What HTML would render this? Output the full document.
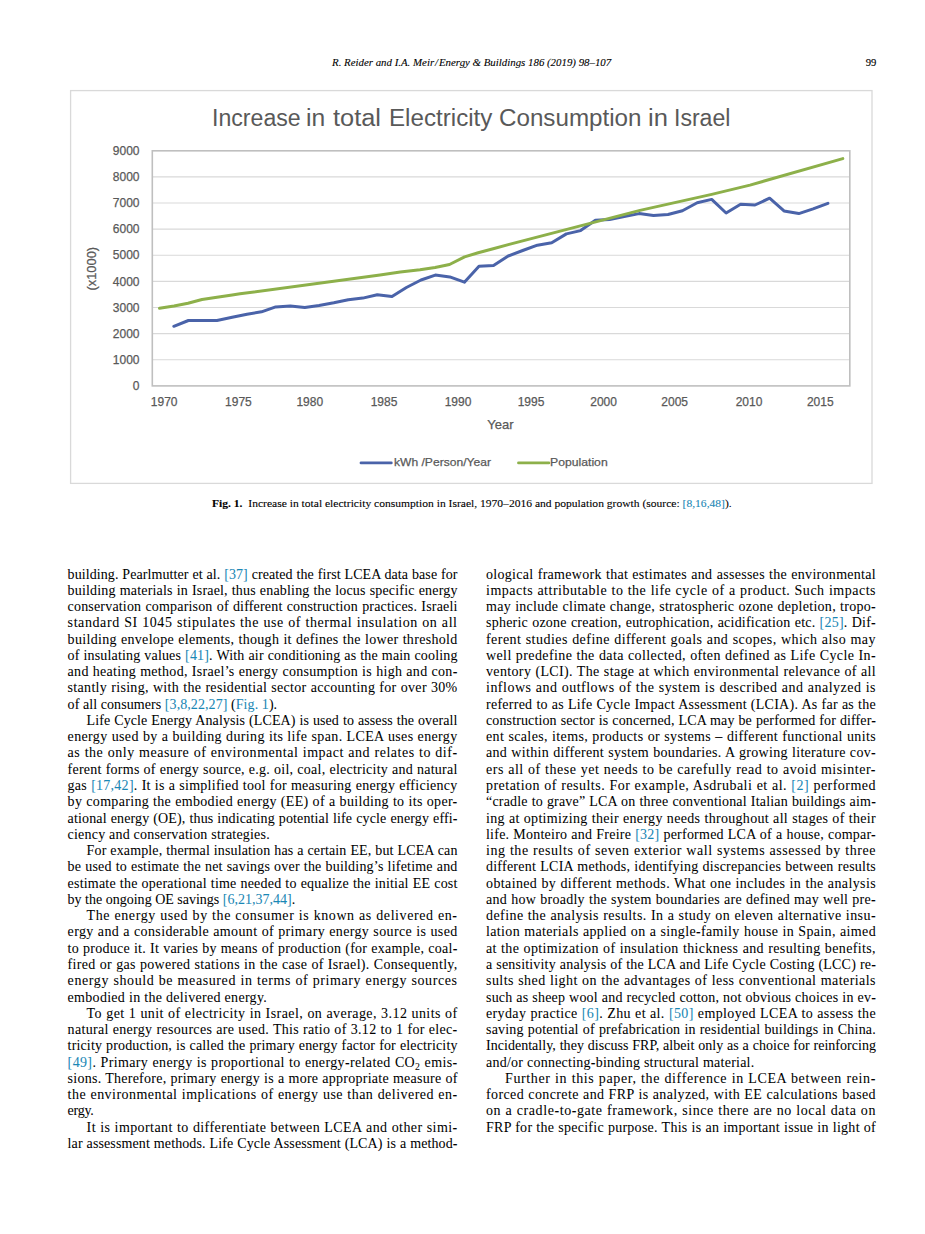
<!DOCTYPE html><html><head><meta charset="utf-8"><style>
html,body{margin:0;padding:0;background:#fff;}
body{width:925px;height:1234px;position:relative;overflow:hidden;}
.l{position:absolute;white-space:nowrap;font-family:'Liberation Serif', serif;font-size:14.0px;letter-spacing:0.45px;line-height:20px;height:20px;color:#000;-webkit-text-stroke:0.04px currentColor;text-align:justify;text-align-last:justify;width:390.0px}
.l.e{text-align-last:left}
.t{position:absolute;white-space:nowrap;line-height:20px;height:20px;transform-origin:0 0}
sub{font-size:70%;vertical-align:-3px;line-height:0}
</style></head><body>
<svg width="925" height="500" viewBox="0 0 925 500" style="position:absolute;left:0;top:0"><rect x="70.6" y="90.6" width="801.4" height="392.8" fill="#fff" stroke="#d9d9d9" stroke-width="1.3"/><line x1="152.4" y1="359.78" x2="849.8" y2="359.78" stroke="#d9d9d9" stroke-width="1.1"/><line x1="152.4" y1="333.66" x2="849.8" y2="333.66" stroke="#d9d9d9" stroke-width="1.1"/><line x1="152.4" y1="307.53" x2="849.8" y2="307.53" stroke="#d9d9d9" stroke-width="1.1"/><line x1="152.4" y1="281.41" x2="849.8" y2="281.41" stroke="#d9d9d9" stroke-width="1.1"/><line x1="152.4" y1="255.29" x2="849.8" y2="255.29" stroke="#d9d9d9" stroke-width="1.1"/><line x1="152.4" y1="229.17" x2="849.8" y2="229.17" stroke="#d9d9d9" stroke-width="1.1"/><line x1="152.4" y1="203.04" x2="849.8" y2="203.04" stroke="#d9d9d9" stroke-width="1.1"/><line x1="152.4" y1="176.92" x2="849.8" y2="176.92" stroke="#d9d9d9" stroke-width="1.1"/><rect x="152.3" y="150.8" width="697.5" height="235.1" fill="none" stroke="#bfbfbf" stroke-width="1.6"/><polyline points="173.8,326.3 188.4,320.5 203.0,320.5 217.0,320.5 232.2,317.3 247.0,314.2 261.5,311.8 275.7,306.9 290.3,305.9 304.8,307.4 319.0,305.4 333.8,302.7 348.3,299.7 362.8,298.1 377.3,294.8 392.0,296.6 406.4,287.5 421.0,280.0 435.3,275.1 449.8,276.9 464.4,282.2 479.0,266.3 493.5,265.6 508.2,256.0 522.7,250.5 537.4,245.2 551.7,242.7 566.4,233.9 580.6,230.6 595.4,220.3 609.6,219.5 624.2,216.5 639.1,213.6 653.5,215.6 668.0,214.5 682.4,210.7 697.2,202.7 711.7,199.4 726.1,213.0 740.6,204.2 755.0,205.0 769.6,198.2 784.0,210.9 798.8,213.6 813.1,208.9 827.9,203.3" fill="none" stroke="#4a63a9" stroke-width="3.0" stroke-linejoin="round" stroke-linecap="round"/><polyline points="159.5,308.3 174.0,306.0 188.0,303.2 202.0,299.5 217.0,297.3 232.2,294.9 240.0,293.8 380.0,275.1 400.3,272.1 420.0,269.7 435.1,267.5 449.5,264.5 464.6,256.9 478.2,252.7 494.1,248.5 509.2,244.4 640.0,210.4 711.7,194.4 750.0,185.1 842.8,158.6" fill="none" stroke="#8db04a" stroke-width="3.0" stroke-linejoin="round" stroke-linecap="round"/><line x1="361" y1="462.9" x2="391.3" y2="462.9" stroke="#4a63a9" stroke-width="2.8" stroke-linecap="round"/><line x1="518.5" y1="462.9" x2="548.9" y2="462.9" stroke="#8db04a" stroke-width="2.8" stroke-linecap="round"/><text transform="translate(96.2,268.7) rotate(-90)" text-anchor="middle" font-family="Liberation Sans, sans-serif" font-size="13.3" fill="#595959" stroke="#595959" stroke-width="0.25" textLength="43.5" lengthAdjust="spacingAndGlyphs">(x1000)</text></svg>
<div class="t" id="t0" style="font-family:'Liberation Sans', sans-serif;font-size:23.3px;color:#595959;left:211.70px;top:107.80px;transform:scaleX(0.9926);">Increase</div>
<div class="t" id="t1" style="font-family:'Liberation Sans', sans-serif;font-size:23.3px;color:#595959;left:306.40px;top:107.80px;transform:scaleX(1.0584);">in</div>
<div class="t" id="t2" style="font-family:'Liberation Sans', sans-serif;font-size:23.3px;color:#595959;left:333.10px;top:107.80px;transform:scaleX(1.0875);">total</div>
<div class="t" id="t3" style="font-family:'Liberation Sans', sans-serif;font-size:23.3px;color:#595959;left:389.30px;top:107.80px;transform:scaleX(1.0374);">Electricity</div>
<div class="t" id="t4" style="font-family:'Liberation Sans', sans-serif;font-size:23.3px;color:#595959;left:498.80px;top:107.80px;transform:scaleX(1.0380);">Consumption</div>
<div class="t" id="t5" style="font-family:'Liberation Sans', sans-serif;font-size:23.3px;color:#595959;left:647.70px;top:107.80px;transform:scaleX(1.0970);">in</div>
<div class="t" id="t6" style="font-family:'Liberation Sans', sans-serif;font-size:23.3px;color:#595959;left:674.00px;top:107.80px;transform:scaleX(0.9900);">Israel</div>
<div class="t" id="t7" style="font-family:'Liberation Sans', sans-serif;font-size:12.0px;color:#595959;-webkit-text-stroke:0.25px #595959;right:785.50px;top:376.10px;">0</div>
<div class="t" id="t8" style="font-family:'Liberation Sans', sans-serif;font-size:12.0px;color:#595959;-webkit-text-stroke:0.25px #595959;right:785.50px;top:349.98px;">1000</div>
<div class="t" id="t9" style="font-family:'Liberation Sans', sans-serif;font-size:12.0px;color:#595959;-webkit-text-stroke:0.25px #595959;right:785.50px;top:323.86px;">2000</div>
<div class="t" id="t10" style="font-family:'Liberation Sans', sans-serif;font-size:12.0px;color:#595959;-webkit-text-stroke:0.25px #595959;right:785.50px;top:297.73px;">3000</div>
<div class="t" id="t11" style="font-family:'Liberation Sans', sans-serif;font-size:12.0px;color:#595959;-webkit-text-stroke:0.25px #595959;right:785.50px;top:271.61px;">4000</div>
<div class="t" id="t12" style="font-family:'Liberation Sans', sans-serif;font-size:12.0px;color:#595959;-webkit-text-stroke:0.25px #595959;right:785.50px;top:245.49px;">5000</div>
<div class="t" id="t13" style="font-family:'Liberation Sans', sans-serif;font-size:12.0px;color:#595959;-webkit-text-stroke:0.25px #595959;right:785.50px;top:219.37px;">6000</div>
<div class="t" id="t14" style="font-family:'Liberation Sans', sans-serif;font-size:12.0px;color:#595959;-webkit-text-stroke:0.25px #595959;right:785.50px;top:193.24px;">7000</div>
<div class="t" id="t15" style="font-family:'Liberation Sans', sans-serif;font-size:12.0px;color:#595959;-webkit-text-stroke:0.25px #595959;right:785.50px;top:167.12px;">8000</div>
<div class="t" id="t16" style="font-family:'Liberation Sans', sans-serif;font-size:12.0px;color:#595959;-webkit-text-stroke:0.25px #595959;right:785.50px;top:141.00px;">9000</div>
<div class="t" id="t17" style="font-family:'Liberation Sans', sans-serif;font-size:12.0px;color:#595959;-webkit-text-stroke:0.25px #595959;left:164.20px;top:392.30px;transform:translateX(-50%);">1970</div>
<div class="t" id="t18" style="font-family:'Liberation Sans', sans-serif;font-size:12.0px;color:#595959;-webkit-text-stroke:0.25px #595959;left:238.40px;top:392.30px;transform:translateX(-50%);">1975</div>
<div class="t" id="t19" style="font-family:'Liberation Sans', sans-serif;font-size:12.0px;color:#595959;-webkit-text-stroke:0.25px #595959;left:309.80px;top:392.30px;transform:translateX(-50%);">1980</div>
<div class="t" id="t20" style="font-family:'Liberation Sans', sans-serif;font-size:12.0px;color:#595959;-webkit-text-stroke:0.25px #595959;left:384.00px;top:392.30px;transform:translateX(-50%);">1985</div>
<div class="t" id="t21" style="font-family:'Liberation Sans', sans-serif;font-size:12.0px;color:#595959;-webkit-text-stroke:0.25px #595959;left:458.00px;top:392.30px;transform:translateX(-50%);">1990</div>
<div class="t" id="t22" style="font-family:'Liberation Sans', sans-serif;font-size:12.0px;color:#595959;-webkit-text-stroke:0.25px #595959;left:531.00px;top:392.30px;transform:translateX(-50%);">1995</div>
<div class="t" id="t23" style="font-family:'Liberation Sans', sans-serif;font-size:12.0px;color:#595959;-webkit-text-stroke:0.25px #595959;left:603.60px;top:392.30px;transform:translateX(-50%);">2000</div>
<div class="t" id="t24" style="font-family:'Liberation Sans', sans-serif;font-size:12.0px;color:#595959;-webkit-text-stroke:0.25px #595959;left:674.70px;top:392.30px;transform:translateX(-50%);">2005</div>
<div class="t" id="t25" style="font-family:'Liberation Sans', sans-serif;font-size:12.0px;color:#595959;-webkit-text-stroke:0.25px #595959;left:749.00px;top:392.30px;transform:translateX(-50%);">2010</div>
<div class="t" id="t26" style="font-family:'Liberation Sans', sans-serif;font-size:12.0px;color:#595959;-webkit-text-stroke:0.25px #595959;left:820.30px;top:392.30px;transform:translateX(-50%);">2015</div>
<div class="t" id="t27" style="font-family:'Liberation Sans', sans-serif;font-size:13.0px;color:#595959;-webkit-text-stroke:0.25px #595959;left:500.50px;top:414.50px;transform:translateX(-50%);">Year</div>
<div class="t" id="t28" style="font-family:'Liberation Sans', sans-serif;font-size:11.8px;color:#595959;-webkit-text-stroke:0.25px #595959;left:393.60px;top:451.90px;transform:scaleX(1.0239);">kWh /Person/Year</div>
<div class="t" id="t29" style="font-family:'Liberation Sans', sans-serif;font-size:11.8px;color:#595959;-webkit-text-stroke:0.25px #595959;left:550.30px;top:451.90px;transform:scaleX(1.0347);">Population</div>
<div class="t" id="t30" style="font-family:'Liberation Serif', serif;font-size:10.4px;color:#000;-webkit-text-stroke:0.1px #000;left:331.80px;top:52.80px;transform:scaleX(1.0440);"><i>R. Reider and I.A. Meir&#8202;/&#8202;Energy &amp; Buildings 186 (2019) 98–107</i></div>
<div class="t" id="t31" style="font-family:'Liberation Serif', serif;font-size:10.6px;color:#000;-webkit-text-stroke:0.15px #000;left:865.80px;top:52.80px;">99</div>
<div class="t" id="t32" style="font-family:'Liberation Serif', serif;font-size:10.6px;color:#000;-webkit-text-stroke:0.1px currentColor;left:212.30px;top:494.10px;transform:scaleX(1.0910);"><b>Fig. 1.</b>&nbsp; Increase in total electricity consumption in Israel, 1970–2016 and population growth (source: <span style="color:#1a87b5">[8,16,48]</span>).</div>
<div class="l" style="left:67.60px;top:564.50px;width:390.00px;letter-spacing:0.080px">building. Pearlmutter et al. <span style="color:#1a87b5">[37]</span> created the first LCEA data base for</div>
<div class="l" style="left:67.60px;top:580.77px;width:390.00px;letter-spacing:0.181px">building materials in Israel, thus enabling the locus specific energy</div>
<div class="l" style="left:67.60px;top:597.04px;width:390.00px;letter-spacing:0.178px">conservation comparison of different construction practices. Israeli</div>
<div class="l" style="left:67.60px;top:613.31px;width:390.00px;letter-spacing:0.591px">standard SI 1045 stipulates the use of thermal insulation on all</div>
<div class="l" style="left:67.60px;top:629.58px;width:390.00px;letter-spacing:0.313px">building envelope elements, though it defines the lower threshold</div>
<div class="l" style="left:67.60px;top:645.85px;width:390.00px;letter-spacing:0.162px">of insulating values <span style="color:#1a87b5">[41]</span>. With air conditioning as the main cooling</div>
<div class="l" style="left:67.60px;top:662.12px;width:390.00px;letter-spacing:0.292px">and heating method, Israel’s energy consumption is high and con-</div>
<div class="l" style="left:67.60px;top:678.39px;width:390.00px;letter-spacing:0.310px">stantly rising, with the residential sector accounting for over 30%</div>
<div class="l e" style="left:67.60px;top:694.66px;width:390.00px;letter-spacing:0.071px">of all consumers <span style="color:#1a87b5">[3,8,22,27]</span> (<span style="color:#1a87b5">Fig. 1</span>).</div>
<div class="l" style="left:86.60px;top:710.93px;width:371.00px;letter-spacing:0.106px">Life Cycle Energy Analysis (LCEA) is used to assess the overall</div>
<div class="l" style="left:67.60px;top:727.20px;width:390.00px;letter-spacing:0.356px">energy used by a building during its life span. LCEA uses energy</div>
<div class="l" style="left:67.60px;top:743.47px;width:390.00px;letter-spacing:0.527px">as the only measure of environmental impact and relates to dif-</div>
<div class="l" style="left:67.60px;top:759.74px;width:390.00px;letter-spacing:0.240px">ferent forms of energy source, e.g. oil, coal, electricity and natural</div>
<div class="l" style="left:67.60px;top:776.01px;width:390.00px;letter-spacing:0.267px">gas <span style="color:#1a87b5">[17,42]</span>. It is a simplified tool for measuring energy efficiency</div>
<div class="l" style="left:67.60px;top:792.28px;width:390.00px;letter-spacing:0.314px">by comparing the embodied energy (EE) of a building to its oper-</div>
<div class="l" style="left:67.60px;top:808.55px;width:390.00px;letter-spacing:0.142px">ational energy (OE), thus indicating potential life cycle energy effi-</div>
<div class="l e" style="left:67.60px;top:824.82px;width:390.00px;letter-spacing:0.204px">ciency and conservation strategies.</div>
<div class="l" style="left:86.60px;top:841.09px;width:371.00px;letter-spacing:0.129px">For example, thermal insulation has a certain EE, but LCEA can</div>
<div class="l" style="left:67.60px;top:857.36px;width:390.00px;letter-spacing:0.208px">be used to estimate the net savings over the building’s lifetime and</div>
<div class="l" style="left:67.60px;top:873.63px;width:390.00px;letter-spacing:0.203px">estimate the operational time needed to equalize the initial EE cost</div>
<div class="l e" style="left:67.60px;top:889.90px;width:390.00px;letter-spacing:0.003px">by the ongoing OE savings <span style="color:#1a87b5">[6,21,37,44]</span>.</div>
<div class="l" style="left:86.60px;top:906.17px;width:371.00px;letter-spacing:0.581px">The energy used by the consumer is known as delivered en-</div>
<div class="l" style="left:67.60px;top:922.44px;width:390.00px;letter-spacing:0.363px">ergy and a considerable amount of primary energy source is used</div>
<div class="l" style="left:67.60px;top:938.71px;width:390.00px;letter-spacing:0.258px">to produce it. It varies by means of production (for example, coal-</div>
<div class="l" style="left:67.60px;top:954.98px;width:390.00px;letter-spacing:0.324px">fired or gas powered stations in the case of Israel). Consequently,</div>
<div class="l" style="left:67.60px;top:971.25px;width:390.00px;letter-spacing:0.595px">energy should be measured in terms of primary energy sources</div>
<div class="l e" style="left:67.60px;top:987.52px;width:390.00px;letter-spacing:0.296px">embodied in the delivered energy.</div>
<div class="l" style="left:86.60px;top:1003.79px;width:371.00px;letter-spacing:0.431px">To get 1 unit of electricity in Israel, on average, 3.12 units of</div>
<div class="l" style="left:67.60px;top:1020.06px;width:390.00px;letter-spacing:0.313px">natural energy resources are used. This ratio of 3.12 to 1 for elec-</div>
<div class="l" style="left:67.60px;top:1036.33px;width:390.00px;letter-spacing:0.154px">tricity production, is called the primary energy factor for electricity</div>
<div class="l" style="left:67.60px;top:1052.60px;width:390.00px;letter-spacing:0.371px"><span style="color:#1a87b5">[49]</span>. Primary energy is proportional to energy-related CO<sub>2</sub> emis-</div>
<div class="l" style="left:67.60px;top:1068.87px;width:390.00px;letter-spacing:0.250px">sions. Therefore, primary energy is a more appropriate measure of</div>
<div class="l" style="left:67.60px;top:1085.14px;width:390.00px;letter-spacing:0.470px">the environmental implications of energy use than delivered en-</div>
<div class="l e" style="left:67.60px;top:1101.41px;width:390.00px;letter-spacing:-0.264px">ergy.</div>
<div class="l" style="left:86.60px;top:1117.68px;width:371.00px;letter-spacing:0.409px">It is important to differentiate between LCEA and other simi-</div>
<div class="l" style="left:67.60px;top:1133.95px;width:390.00px;letter-spacing:0.105px">lar assessment methods. Life Cycle Assessment (LCA) is a method-</div>
<div class="l" style="left:486.00px;top:564.50px;width:390.00px;letter-spacing:0.294px">ological framework that estimates and assesses the environmental</div>
<div class="l" style="left:486.00px;top:580.77px;width:390.00px;letter-spacing:0.505px">impacts attributable to the life cycle of a product. Such impacts</div>
<div class="l" style="left:486.00px;top:597.04px;width:390.00px;letter-spacing:0.278px">may include climate change, stratospheric ozone depletion, tropo-</div>
<div class="l" style="left:486.00px;top:613.31px;width:390.00px;letter-spacing:0.228px">spheric ozone creation, eutrophication, acidification etc. <span style="color:#1a87b5">[25]</span>. Dif-</div>
<div class="l" style="left:486.00px;top:629.58px;width:390.00px;letter-spacing:0.462px">ferent studies define different goals and scopes, which also may</div>
<div class="l" style="left:486.00px;top:645.85px;width:390.00px;letter-spacing:0.392px">well predefine the data collected, often defined as Life Cycle In-</div>
<div class="l" style="left:486.00px;top:662.12px;width:390.00px;letter-spacing:0.353px">ventory (LCI). The stage at which environmental relevance of all</div>
<div class="l" style="left:486.00px;top:678.39px;width:390.00px;letter-spacing:0.490px">inflows and outflows of the system is described and analyzed is</div>
<div class="l" style="left:486.00px;top:694.66px;width:390.00px;letter-spacing:0.260px">referred to as Life Cycle Impact Assessment (LCIA). As far as the</div>
<div class="l" style="left:486.00px;top:710.93px;width:390.00px;letter-spacing:0.123px">construction sector is concerned, LCA may be performed for differ-</div>
<div class="l" style="left:486.00px;top:727.20px;width:390.00px;letter-spacing:0.365px">ent scales, items, products or systems – different functional units</div>
<div class="l" style="left:486.00px;top:743.47px;width:390.00px;letter-spacing:0.317px">and within different system boundaries. A growing literature cov-</div>
<div class="l" style="left:486.00px;top:759.74px;width:390.00px;letter-spacing:0.531px">ers all of these yet needs to be carefully read to avoid misinter-</div>
<div class="l" style="left:486.00px;top:776.01px;width:390.00px;letter-spacing:0.475px">pretation of results. For example, Asdrubali et al. <span style="color:#1a87b5">[2]</span> performed</div>
<div class="l" style="left:486.00px;top:792.28px;width:390.00px;letter-spacing:0.179px">“cradle to grave” LCA on three conventional Italian buildings aim-</div>
<div class="l" style="left:486.00px;top:808.55px;width:390.00px;letter-spacing:0.313px">ing at optimizing their energy needs throughout all stages of their</div>
<div class="l" style="left:486.00px;top:824.82px;width:390.00px;letter-spacing:0.232px">life. Monteiro and Freire <span style="color:#1a87b5">[32]</span> performed LCA of a house, compar-</div>
<div class="l" style="left:486.00px;top:841.09px;width:390.00px;letter-spacing:0.555px">ing the results of seven exterior wall systems assessed by three</div>
<div class="l" style="left:486.00px;top:857.36px;width:390.00px;letter-spacing:0.234px">different LCIA methods, identifying discrepancies between results</div>
<div class="l" style="left:486.00px;top:873.63px;width:390.00px;letter-spacing:0.381px">obtained by different methods. What one includes in the analysis</div>
<div class="l" style="left:486.00px;top:889.90px;width:390.00px;letter-spacing:0.281px">and how broadly the system boundaries are defined may well pre-</div>
<div class="l" style="left:486.00px;top:906.17px;width:390.00px;letter-spacing:0.432px">define the analysis results. In a study on eleven alternative insu-</div>
<div class="l" style="left:486.00px;top:922.44px;width:390.00px;letter-spacing:0.355px">lation materials applied on a single-family house in Spain, aimed</div>
<div class="l" style="left:486.00px;top:938.71px;width:390.00px;letter-spacing:0.373px">at the optimization of insulation thickness and resulting benefits,</div>
<div class="l" style="left:486.00px;top:954.98px;width:390.00px;letter-spacing:0.179px">a sensitivity analysis of the LCA and Life Cycle Costing (LCC) re-</div>
<div class="l" style="left:486.00px;top:971.25px;width:390.00px;letter-spacing:0.445px">sults shed light on the advantages of less conventional materials</div>
<div class="l" style="left:486.00px;top:987.52px;width:390.00px;letter-spacing:0.185px">such as sheep wool and recycled cotton, not obvious choices in ev-</div>
<div class="l" style="left:486.00px;top:1003.79px;width:390.00px;letter-spacing:0.367px">eryday practice <span style="color:#1a87b5">[6]</span>. Zhu et al. <span style="color:#1a87b5">[50]</span> employed LCEA to assess the</div>
<div class="l" style="left:486.00px;top:1020.06px;width:390.00px;letter-spacing:0.205px">saving potential of prefabrication in residential buildings in China.</div>
<div class="l" style="left:486.00px;top:1036.33px;width:390.00px;letter-spacing:0.031px">Incidentally, they discuss FRP, albeit only as a choice for reinforcing</div>
<div class="l e" style="left:486.00px;top:1052.60px;width:390.00px;letter-spacing:0.242px">and/or connecting-binding structural material.</div>
<div class="l" style="left:505.00px;top:1068.87px;width:371.00px;letter-spacing:0.624px">Further in this paper, the difference in LCEA between rein-</div>
<div class="l" style="left:486.00px;top:1085.14px;width:390.00px;letter-spacing:0.388px">forced concrete and FRP is analyzed, with EE calculations based</div>
<div class="l" style="left:486.00px;top:1101.41px;width:390.00px;letter-spacing:0.584px">on a cradle-to-gate framework, since there are no local data on</div>
<div class="l" style="left:486.00px;top:1117.68px;width:390.00px;letter-spacing:0.264px">FRP for the specific purpose. This is an important issue in light of</div>
</body></html>
